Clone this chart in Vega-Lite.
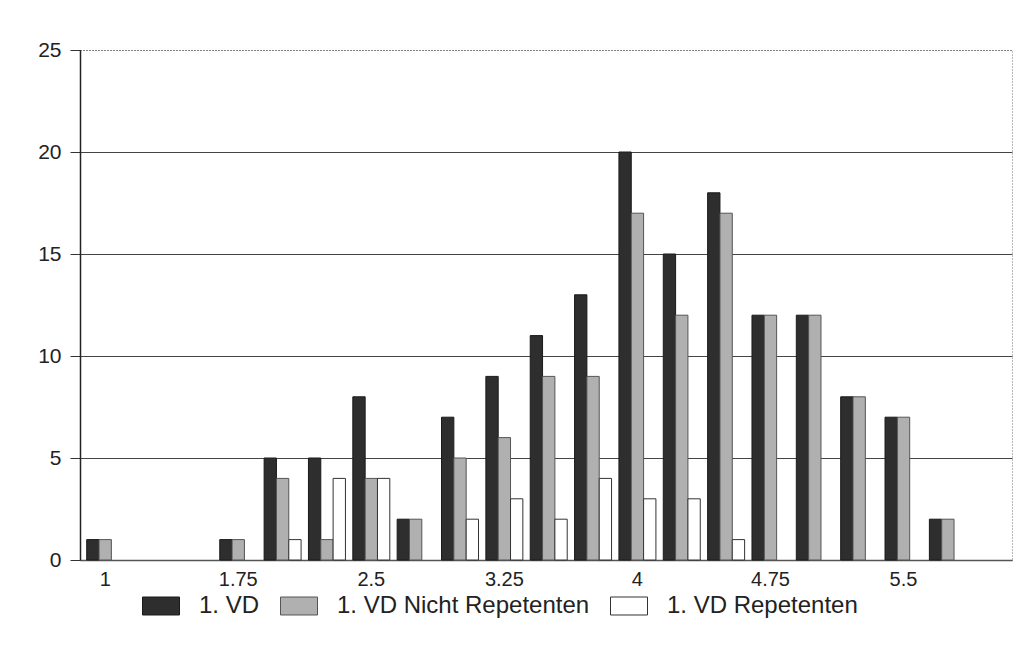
{
  "$schema": "https://vega.github.io/schema/vega-lite/v6.json",
  "width": 932,
  "height": 510,
  "autosize": {"type": "none"},
  "padding": {"left": 80, "top": 50, "right": 10, "bottom": 90},
  "background": "white",
  "config": {
    "font": "Liberation Sans",
    "view": {"stroke": "#777777", "strokeDash": [1, 2], "strokeWidth": 1}
  },
  "data": {
    "values": [
      {"category": "1", "series": "1. VD", "value": 1},
      {"category": "1", "series": "1. VD Nicht Repetenten", "value": 1},
      {"category": "1.75", "series": "1. VD", "value": 1},
      {"category": "1.75", "series": "1. VD Nicht Repetenten", "value": 1},
      {"category": "2", "series": "1. VD", "value": 5},
      {"category": "2", "series": "1. VD Nicht Repetenten", "value": 4},
      {"category": "2", "series": "1. VD Repetenten", "value": 1},
      {"category": "2.25", "series": "1. VD", "value": 5},
      {"category": "2.25", "series": "1. VD Nicht Repetenten", "value": 1},
      {"category": "2.25", "series": "1. VD Repetenten", "value": 4},
      {"category": "2.5", "series": "1. VD", "value": 8},
      {"category": "2.5", "series": "1. VD Nicht Repetenten", "value": 4},
      {"category": "2.5", "series": "1. VD Repetenten", "value": 4},
      {"category": "2.75", "series": "1. VD", "value": 2},
      {"category": "2.75", "series": "1. VD Nicht Repetenten", "value": 2},
      {"category": "3", "series": "1. VD", "value": 7},
      {"category": "3", "series": "1. VD Nicht Repetenten", "value": 5},
      {"category": "3", "series": "1. VD Repetenten", "value": 2},
      {"category": "3.25", "series": "1. VD", "value": 9},
      {"category": "3.25", "series": "1. VD Nicht Repetenten", "value": 6},
      {"category": "3.25", "series": "1. VD Repetenten", "value": 3},
      {"category": "3.5", "series": "1. VD", "value": 11},
      {"category": "3.5", "series": "1. VD Nicht Repetenten", "value": 9},
      {"category": "3.5", "series": "1. VD Repetenten", "value": 2},
      {"category": "3.75", "series": "1. VD", "value": 13},
      {"category": "3.75", "series": "1. VD Nicht Repetenten", "value": 9},
      {"category": "3.75", "series": "1. VD Repetenten", "value": 4},
      {"category": "4", "series": "1. VD", "value": 20},
      {"category": "4", "series": "1. VD Nicht Repetenten", "value": 17},
      {"category": "4", "series": "1. VD Repetenten", "value": 3},
      {"category": "4.25", "series": "1. VD", "value": 15},
      {"category": "4.25", "series": "1. VD Nicht Repetenten", "value": 12},
      {"category": "4.25", "series": "1. VD Repetenten", "value": 3},
      {"category": "4.5", "series": "1. VD", "value": 18},
      {"category": "4.5", "series": "1. VD Nicht Repetenten", "value": 17},
      {"category": "4.5", "series": "1. VD Repetenten", "value": 1},
      {"category": "4.75", "series": "1. VD", "value": 12},
      {"category": "4.75", "series": "1. VD Nicht Repetenten", "value": 12},
      {"category": "5", "series": "1. VD", "value": 12},
      {"category": "5", "series": "1. VD Nicht Repetenten", "value": 12},
      {"category": "5.25", "series": "1. VD", "value": 8},
      {"category": "5.25", "series": "1. VD Nicht Repetenten", "value": 8},
      {"category": "5.5", "series": "1. VD", "value": 7},
      {"category": "5.5", "series": "1. VD Nicht Repetenten", "value": 7},
      {"category": "5.75", "series": "1. VD", "value": 2},
      {"category": "5.75", "series": "1. VD Nicht Repetenten", "value": 2}
    ]
  },
  "mark": {"type": "bar", "strokeWidth": 1},
  "encoding": {
    "x": {
      "field": "category",
      "type": "nominal",
      "scale": {
        "domain": ["1", "1.25", "1.5", "1.75", "2", "2.25", "2.5", "2.75", "3", "3.25", "3.5", "3.75", "4", "4.25", "4.5", "4.75", "5", "5.25", "5.5", "5.75", "6"],
        "paddingInner": 0.166,
        "paddingOuter": 0.09,
        "align": 0.84
      },
      "axis": {
        "title": null,
        "values": ["1", "1.75", "2.5", "3.25", "4", "4.75", "5.5"],
        "ticks": false,
        "labelAngle": 0,
        "labelFontSize": 20,
        "labelPadding": 9,
        "labelColor": "#222222",
        "domainColor": "#555555",
        "domainWidth": 1.5
      }
    },
    "xOffset": {
      "field": "series",
      "type": "nominal",
      "scale": {
        "domain": ["1. VD", "1. VD Nicht Repetenten", "1. VD Repetenten"],
        "paddingInner": 0,
        "paddingOuter": 0
      }
    },
    "y": {
      "field": "value",
      "type": "quantitative",
      "scale": {"domain": [0, 25], "nice": false},
      "axis": {
        "title": null,
        "values": [0, 5, 10, 15, 20, 25],
        "grid": true,
        "gridColor": "#444444",
        "gridWidth": 1,
        "gridDash": {"condition": {"test": "datum.value === 25", "value": [1, 2]}, "value": []},
        "domainColor": "#222222",
        "domainWidth": 1.5,
        "tickColor": "#333333",
        "tickSize": 10,
        "labelFontSize": 21,
        "labelPadding": 9,
        "labelColor": "#222222"
      }
    },
    "fill": {
      "field": "series",
      "type": "nominal",
      "scale": {
        "domain": ["1. VD", "1. VD Nicht Repetenten", "1. VD Repetenten"],
        "range": ["#2e2e2e", "#b0b0b0", "#ffffff"]
      },
      "legend": {
        "title": null,
        "orient": "none",
        "legendX": 62,
        "legendY": 537,
        "direction": "horizontal",
        "symbolType": "M-1,-0.486H1V0.486H-1Z",
        "symbolSize": 1369,
        "symbolStrokeWidth": 1,
        "labelFontSize": 24,
        "labelOffset": 19,
        "labelLimit": 400,
        "labelColor": "#222222",
        "columnPadding": 18,
        "padding": 0
      }
    },
    "stroke": {
      "field": "series",
      "type": "nominal",
      "scale": {
        "domain": ["1. VD", "1. VD Nicht Repetenten", "1. VD Repetenten"],
        "range": ["#1a1a1a", "#555555", "#333333"]
      },
      "legend": {
        "title": null,
        "orient": "none",
        "legendX": 62,
        "legendY": 537,
        "direction": "horizontal",
        "symbolType": "M-1,-0.486H1V0.486H-1Z",
        "symbolSize": 1369,
        "symbolStrokeWidth": 1,
        "labelFontSize": 24,
        "labelOffset": 19,
        "labelLimit": 400,
        "labelColor": "#222222",
        "columnPadding": 18,
        "padding": 0
      }
    }
  }
}
